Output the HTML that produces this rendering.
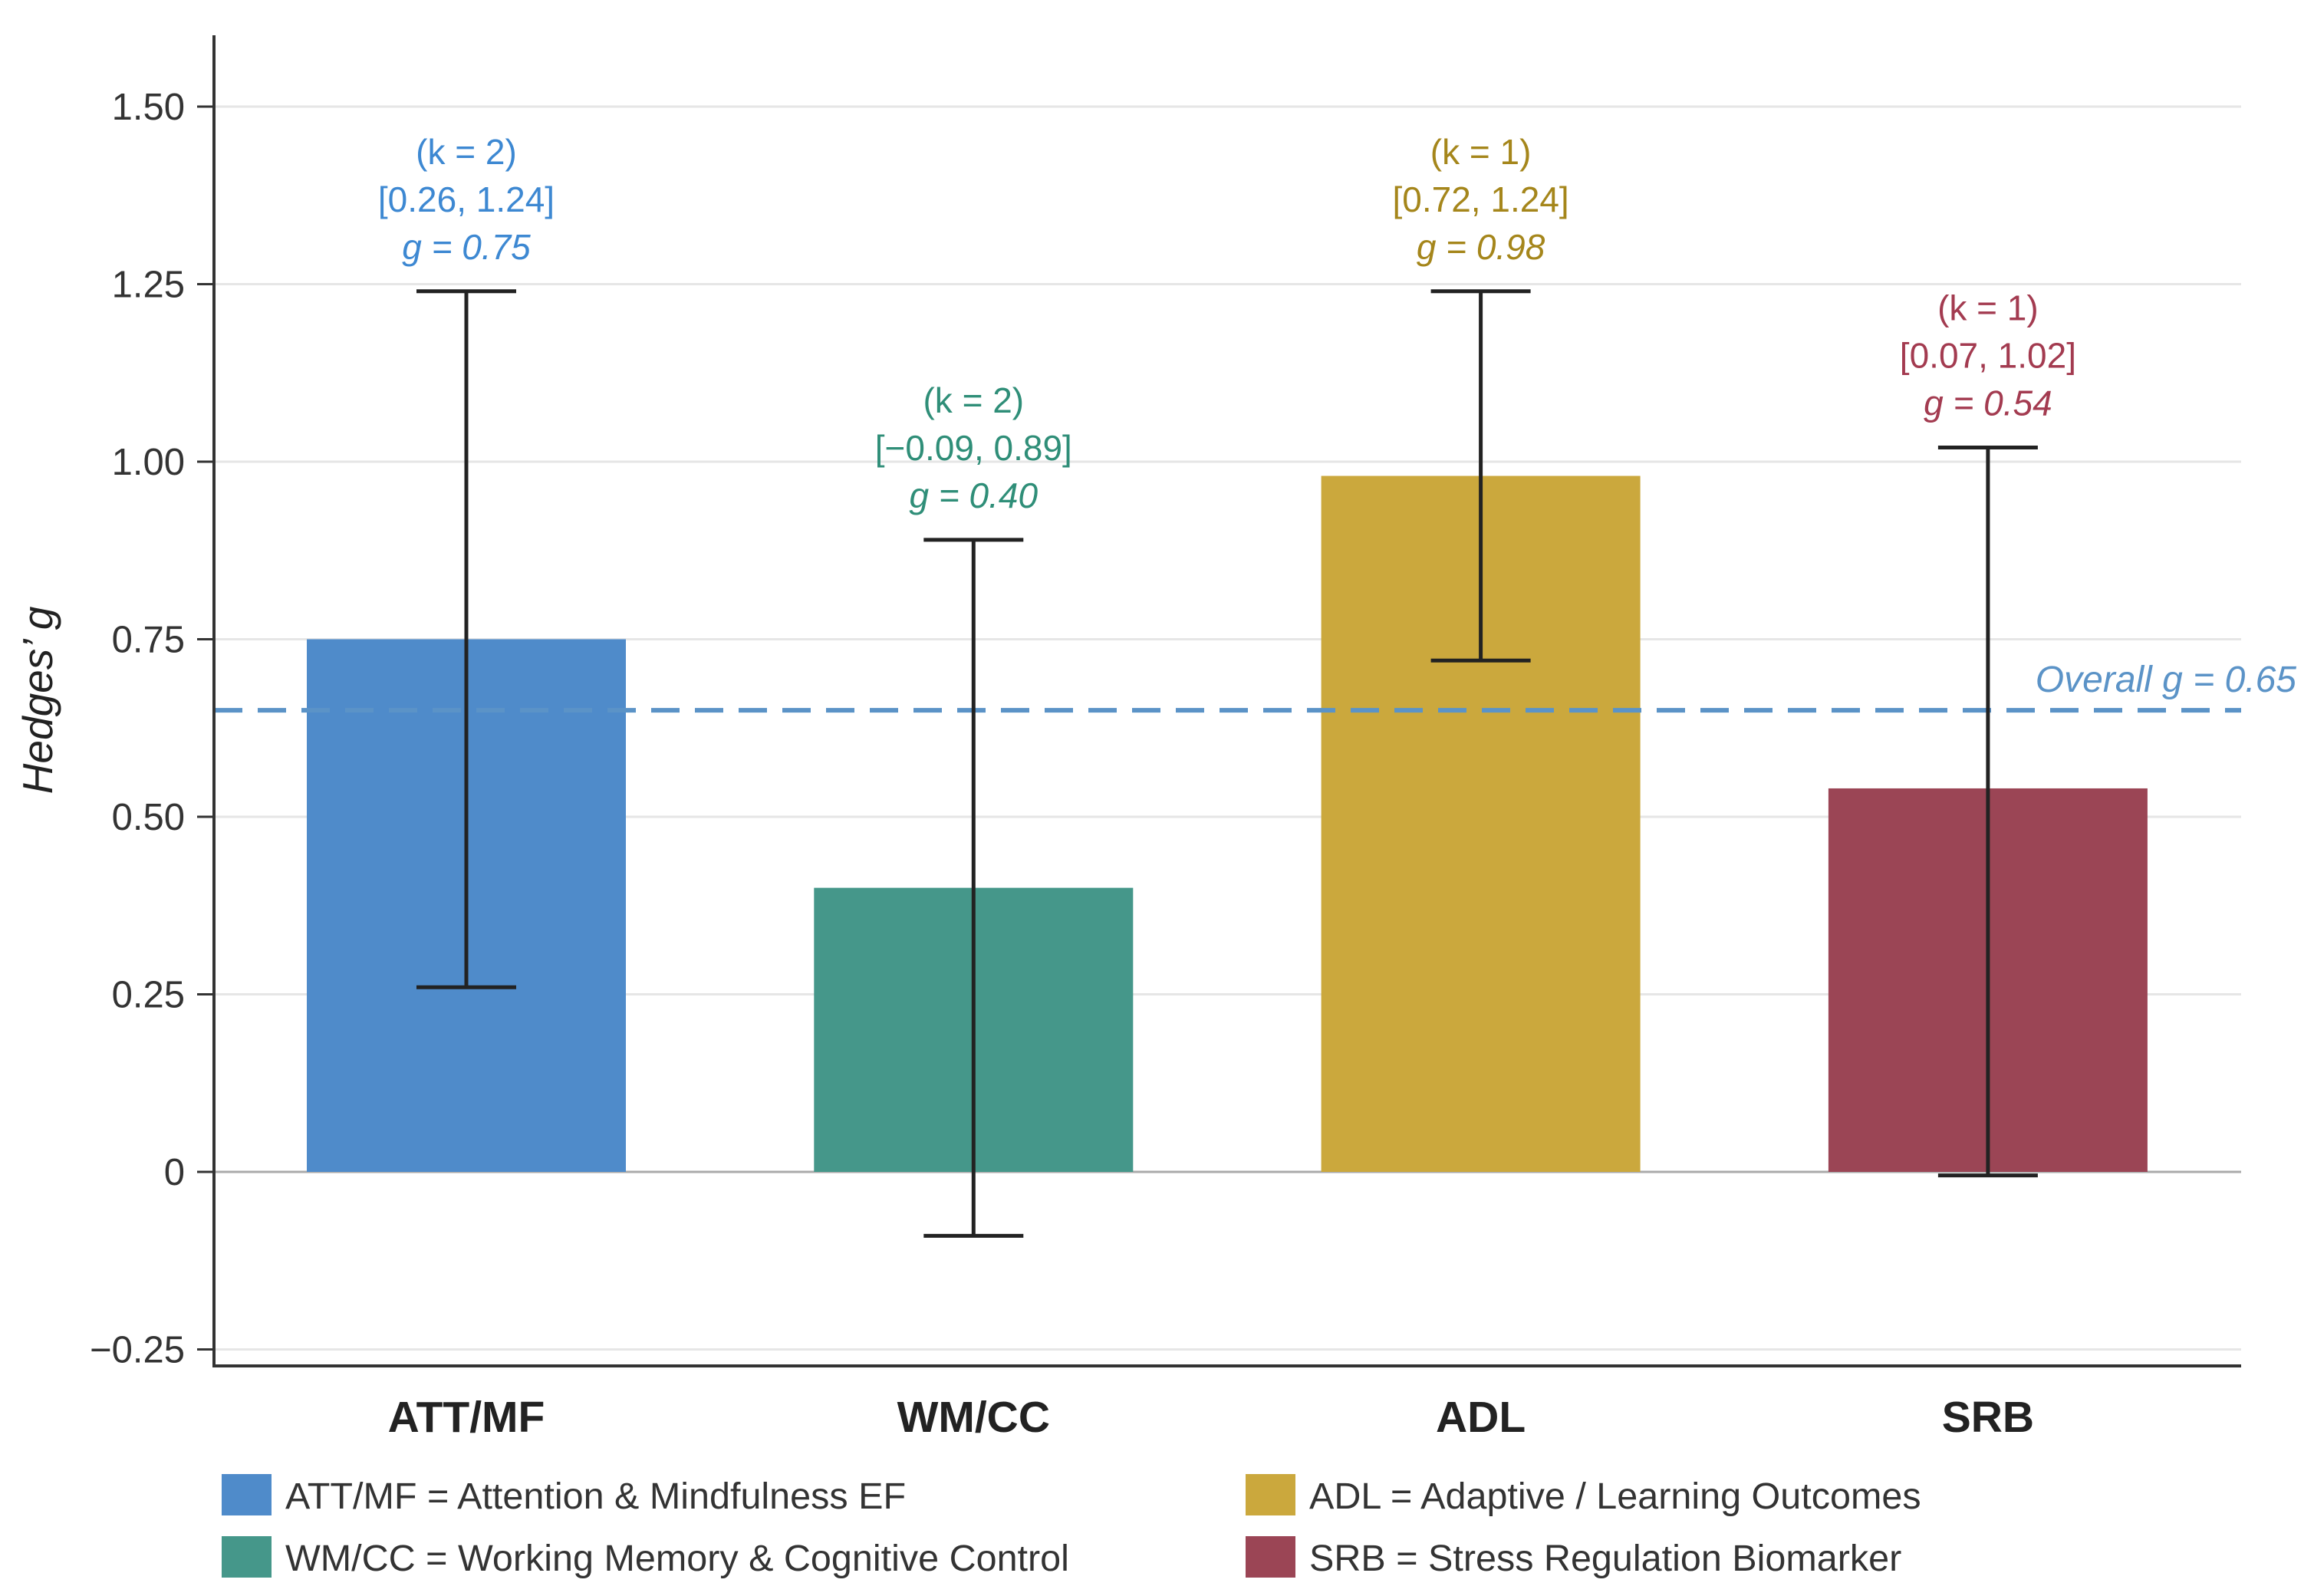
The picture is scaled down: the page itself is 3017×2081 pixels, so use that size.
<!DOCTYPE html>
<html><head><meta charset="utf-8"><style>
html,body{margin:0;padding:0;background:#fff}
svg{display:block;font-family:"Liberation Sans",Arial,sans-serif}
</style></head><body>
<svg id="chart" width="3017" height="2081" viewBox="0 0 3017 2081" xmlns="http://www.w3.org/2000/svg">
<g id="grid"></g>
<g id="bars"></g>
<g id="overall"></g>
<g id="errs"></g>
<g id="annots"></g>
<g id="axes"></g>
<g id="legend"></g>
</svg>
<script>
const categories = ["ATT/MF","WM/CC","ADL","SRB"];
const gValues = [0.75,0.40,0.98,0.54];
const ciLower = [0.26,-0.09,0.72,0.07];
const ciUpper = [1.24,0.89,1.24,1.02];
const errLowerDrawn = [0.26,-0.09,0.72,-0.005];
const kValues = [2,2,1,1];
const yTicks = [-0.25,0,0.25,0.5,0.75,1.0,1.25,1.5];
const yTickLabels = ["\u22120.25","0","0.25","0.50","0.75","1.00","1.25","1.50"];
const overallG = 0.65;
const legendLabels = ["ATT/MF = Attention & Mindfulness EF","WM/CC = Working Memory & Cognitive Control","ADL = Adaptive / Learning Outcomes","SRB = Stress Regulation Biomarker"];

const barColors = ["#4f8bca","#45978a","#cba83d","#9b4555"];
const textColors = ["#3d88d2","#2f8e78","#a5861b","#a33b50"];
const NS="http://www.w3.org/2000/svg";
const X0=279, X1=2922, YTOP=46, YBOT=1781;
function y(v){return 1528 - v*926;}
function xc(i){return 608 + i*661.3;}
const BW=416, CAP=130;
function mk(parent,tag,attrs,text){const e=document.createElementNS(NS,tag);for(const k in attrs)e.setAttribute(k,attrs[k]);if(text!==undefined)e.textContent=text;document.getElementById(parent).appendChild(e);return e;}

yTicks.forEach((t,i)=>{
  if(t!==0){const l=mk('grid','line',{x1:X0,x2:X1,y1:y(t),y2:y(t),stroke:'#e6e6e6','stroke-width':3});
  
  }
  const tk=mk('axes','line',{x1:X0-22,x2:X0,y1:y(t),y2:y(t),stroke:'#333','stroke-width':3});
  
  
  const tl=mk('axes','text',{x:X0-38,y:y(t)+17,'text-anchor':'end','font-size':49,fill:'#333'},yTickLabels[i]);
  
  
});
const zl=mk('grid','line',{x1:X0,x2:X1,y1:y(0),y2:y(0),stroke:'#aaaaaa','stroke-width':3});



categories.forEach((c,i)=>{
  const b=mk('bars','rect',{x:xc(i)-BW/2,y:Math.min(y(gValues[i]),y(0)),width:BW,height:Math.abs(y(0)-y(gValues[i])),fill:barColors[i]});
  
  
});

const ol=mk('overall','line',{x1:X0,x2:X1,y1:y(overallG),y2:y(overallG),stroke:'#5b93c7','stroke-width':6,'stroke-dasharray':'37 20'});


const ot=mk('overall','text',{x:2994,y:y(overallG)-24,'text-anchor':'end','font-size':48,'font-style':'italic',fill:'#5b93c7'},'Overall g = '+overallG.toFixed(2));



categories.forEach((c,i)=>{
  const cx=xc(i), yu=y(ciUpper[i]), yl=y(errLowerDrawn[i]);
  const v=mk('errs','line',{x1:cx,x2:cx,y1:yu,y2:yl,stroke:'#222','stroke-width':5});
  
  
  [yu,yl].forEach(yy=>{const cp=mk('errs','line',{x1:cx-CAP/2,x2:cx+CAP/2,y1:yy,y2:yy,stroke:'#222','stroke-width':5});
  
  });
  const fmt=v=>(v<0?'\u2212':'')+Math.abs(v).toFixed(2);
  const lines=['(k = '+kValues[i]+')','['+fmt(ciLower[i])+', '+fmt(ciUpper[i])+']','g = '+gValues[i].toFixed(2)];
  lines.forEach((s,j)=>{
    const t=mk('annots','text',{x:cx,y:yu-58+(j-2)*62+16,'text-anchor':'middle','font-size':46,fill:textColors[i],'font-style':j===2?'italic':'normal'},s);
    
    
  });
  const xl=mk('axes','text',{x:cx,y:1867,'text-anchor':'middle','font-size':57,'font-weight':'bold',fill:'#222'},c);
  
  
});

const ax=mk('axes','path',{d:`M${X0} ${YTOP} L${X0} ${YBOT} L${X1} ${YBOT}`,fill:'none',stroke:'#333','stroke-width':4});


const yt=mk('axes','text',{x:0,y:0,transform:'translate(68,913) rotate(-90)','text-anchor':'middle','font-size':55,'font-style':'italic',fill:'#222'},'Hedges\u2019 g');



legendLabels.forEach((s,i)=>{
  const col=i<2?0:1, row=i%2;
  const sx=col?1624:289, sy=1922+row*81;
  const r=mk('legend','rect',{x:sx,y:sy,width:65,height:54,fill:barColors[i]});
  
  
  const t=mk('legend','text',{x:sx+83,y:sy+45,'font-size':48.5,fill:'#333'},s);
  
  
});
</script>
</body></html>
